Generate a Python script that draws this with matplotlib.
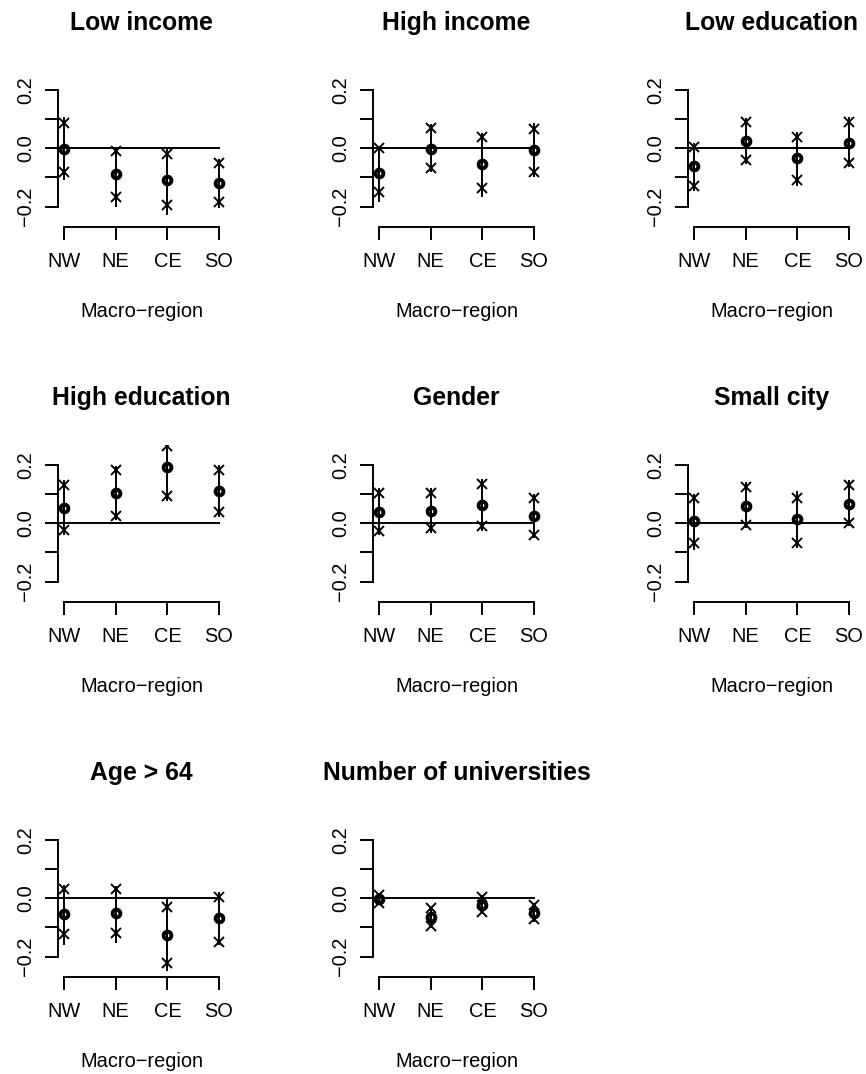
import matplotlib
matplotlib.use("Agg")
import matplotlib.pyplot as plt
import numpy as np

plt.rcParams['font.family'] = ['Liberation Sans', 'DejaVu Sans']

regions = ['NW', 'NE', 'CE', 'SO']
titles = ['Low income', 'High income', 'Low education',
          'High education', 'Gender', 'Small city',
          'Age > 64', 'Number of universities']

# point estimates
est = [
    [-0.003, -0.089, -0.109, -0.120],
    [-0.086, -0.003, -0.054, -0.006],
    [-0.061, 0.025, -0.035, 0.019],
    [0.051, 0.103, 0.192, 0.111],
    [0.040, 0.043, 0.061, 0.025],
    [0.008, 0.059, 0.014, 0.066],
    [-0.054, -0.049, -0.126, -0.069],
    [-0.003, -0.063, -0.023, -0.049],
]
# inner interval (x marks)
ci_lo = [
    [-0.083, -0.166, -0.194, -0.183],
    [-0.149, -0.069, -0.135, -0.083],
    [-0.129, -0.040, -0.109, -0.051],
    [-0.023, 0.025, 0.094, 0.037],
    [-0.026, -0.017, -0.009, -0.040],
    [-0.069, -0.006, -0.069, 0.002],
    [-0.122, -0.120, -0.221, -0.149],
    [-0.015, -0.094, -0.046, -0.072],
]
ci_hi = [
    [0.086, -0.011, -0.019, -0.051],
    [0.000, 0.069, 0.038, 0.065],
    [0.003, 0.091, 0.040, 0.091],
    [0.131, 0.183, 0.265, 0.183],
    [0.103, 0.105, 0.135, 0.086],
    [0.086, 0.126, 0.086, 0.131],
    [0.031, 0.031, -0.029, 0.003],
    [0.011, -0.034, 0.003, -0.023],
]
# outer interval (vertical bar)
bar_lo = [
    [-0.109, -0.200, -0.229, -0.206],
    [-0.183, -0.083, -0.166, -0.097],
    [-0.145, -0.054, -0.129, -0.065],
    [-0.040, 0.011, 0.078, 0.021],
    [-0.040, -0.032, -0.025, -0.051],
    [-0.091, -0.017, -0.086, -0.009],
    [-0.160, -0.152, -0.251, -0.160],
    [-0.020, -0.103, -0.054, -0.080],
]
bar_hi = [
    [0.106, 0.000, 0.000, -0.038],
    [0.008, 0.083, 0.054, 0.086],
    [0.019, 0.103, 0.057, 0.106],
    [0.149, 0.197, 0.285, 0.200],
    [0.120, 0.120, 0.151, 0.101],
    [0.101, 0.143, 0.112, 0.149],
    [0.046, 0.042, 0.000, 0.023],
    [0.018, -0.029, 0.011, -0.015],
]

W, H = 866, 1074
fig = plt.figure(figsize=(W / 100, H / 100), dpi=100)

col_w, row_h = 315, 375
pl, pr, pt, pb = 57.8, 225.2, 69.5, 227.0
lw = 1.4
x = np.arange(1, 5)

for k, title in enumerate(titles):
    r, c = divmod(k, 3)
    left = c * col_w + pl
    ax = fig.add_axes([left / W, 1 - (r * row_h + pb) / H,
                       (pr - pl) / W, (pb - pt) / H])
    ax.set_xlim(0.88, 4.12)
    ax.set_ylim(-0.27, 0.27)

    ax.plot([0, 4], [0, 0], color='black', lw=lw)
    ax.vlines(x, bar_lo[k], bar_hi[k], color='black', lw=lw)
    ax.plot(x, ci_lo[k], 'x', color='black', ms=7, mew=lw)
    ax.plot(x, ci_hi[k], 'x', color='black', ms=7, mew=lw)
    ax.plot(x, est[k], 'o', color='black', mfc='none', ms=5.6, mew=2.8)

    for side in ['top', 'right']:
        ax.spines[side].set_visible(False)
    ax.spines['left'].set_bounds(-0.2, 0.2)
    ax.spines['bottom'].set_bounds(1, 4)
    for side in ['left', 'bottom']:
        ax.spines[side].set_linewidth(lw)
        ax.spines[side].set_capstyle('projecting')

    ax.set_xticks(x)
    ax.set_xticklabels(regions, fontsize=14.4)
    ax.set_yticks([-0.2, -0.1, 0.0, 0.1, 0.2])
    ax.set_yticklabels(['\u22120.2', '', '0.0', '', '0.2'], fontsize=14.4,
                       rotation=90, va='center')
    ax.tick_params(axis='both', length=9.2, width=lw, direction='out')
    ax.tick_params(axis='x', pad=9)
    ax.tick_params(axis='y', pad=7)

    cx = (left + c * col_w + pr) / 2
    fig.text(cx / W, 1 - (r * row_h + 30) / H, title, ha='center',
             va='baseline', fontsize=17.8, fontweight='bold')
    fig.text(cx / W, 1 - (r * row_h + 317) / H, 'Macro\u2212region',
             ha='center', va='baseline', fontsize=14.4)

fig.savefig('out.png', dpi=100)
